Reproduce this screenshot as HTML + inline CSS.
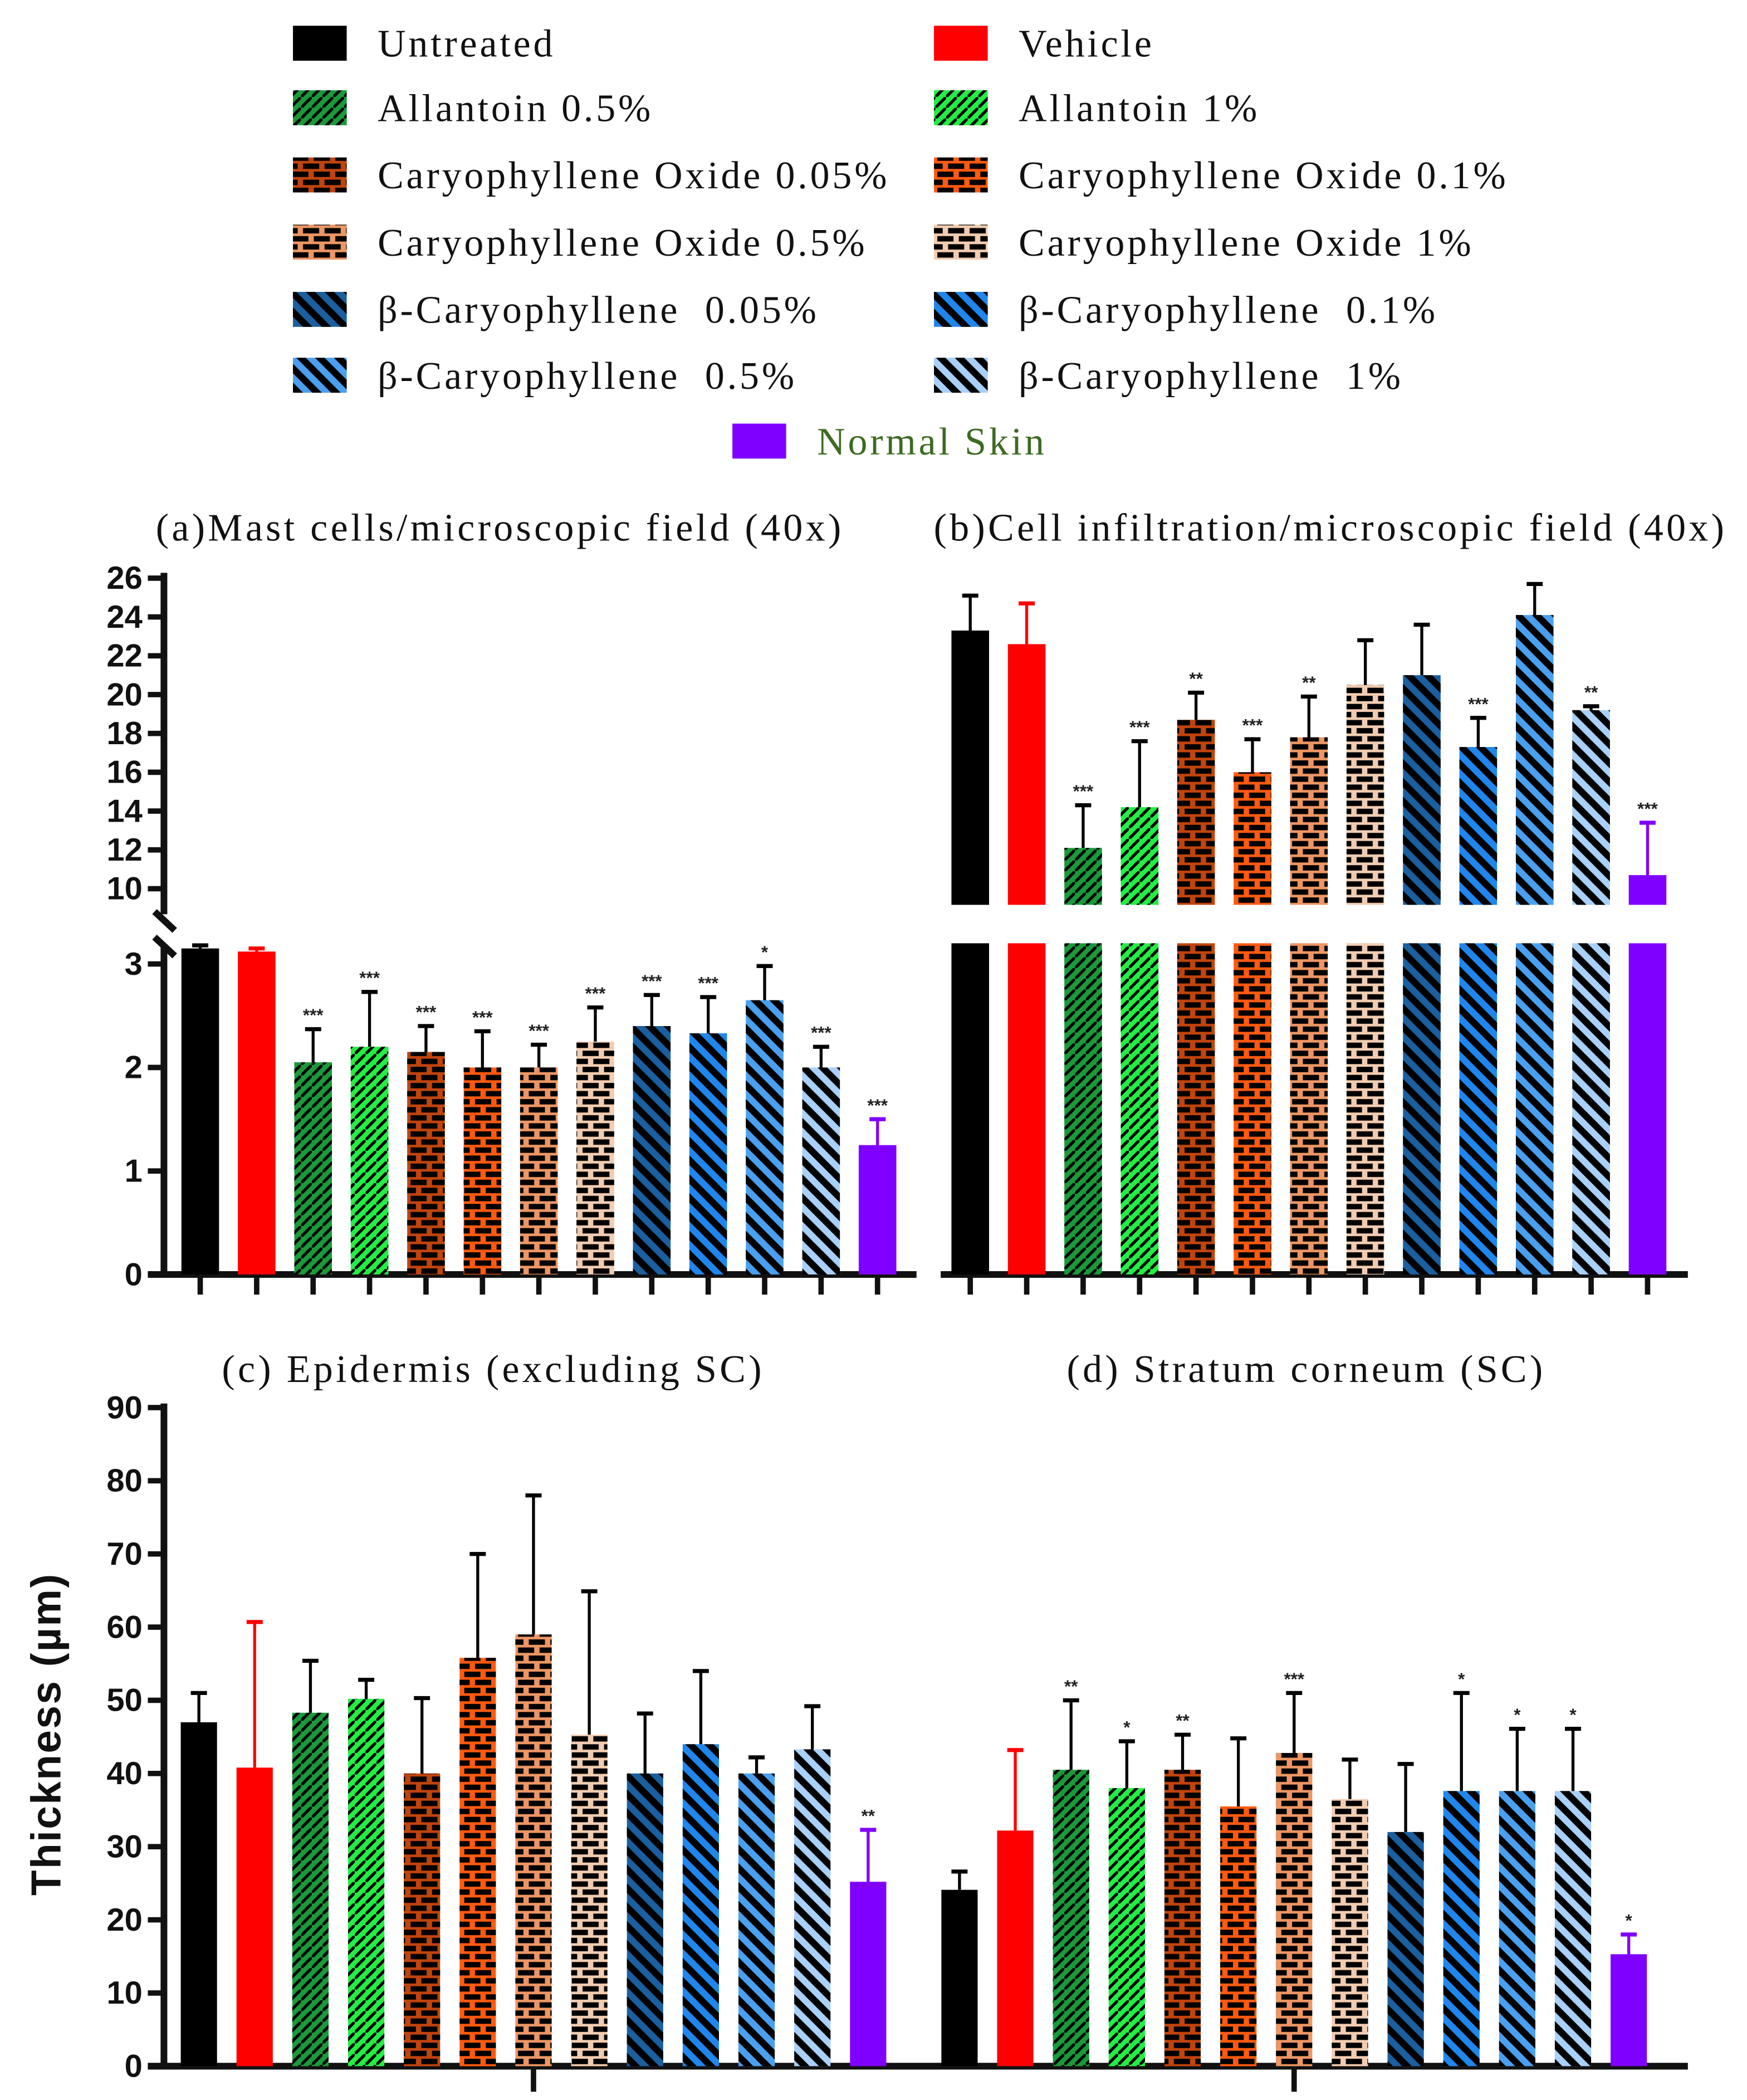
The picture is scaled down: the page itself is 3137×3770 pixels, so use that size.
<!DOCTYPE html>
<html><head><meta charset="utf-8"><style>
html,body{margin:0;padding:0;background:#fff;}
svg{display:block;}
.lg{font-family:"Liberation Serif",serif;font-size:29px;letter-spacing:2px;fill:#111;}
.tt{font-family:"Liberation Serif",serif;font-size:29px;letter-spacing:2.2px;fill:#111;}
.tk{font-family:"Liberation Sans",sans-serif;font-weight:bold;font-size:24px;fill:#111;}
.st{font-family:"Liberation Sans",sans-serif;font-size:13px;fill:#222;font-weight:bold;}
</style></head><body>
<svg id="chart" width="3137" height="3770" viewBox="0 0 1300 1562" xmlns="http://www.w3.org/2000/svg">
<defs>
<pattern id="hatch" patternUnits="userSpaceOnUse" width="8" height="8"><path d="M-2,10 L10,-2" stroke="#000" stroke-width="2.2"/></pattern>
<pattern id="brick" patternUnits="userSpaceOnUse" width="16" height="12"><rect x="1.5" y="1.5" width="12" height="4" fill="#000"/><rect x="-6.5" y="7.5" width="12" height="4" fill="#000"/><rect x="9.5" y="7.5" width="12" height="4" fill="#000"/></pattern>
<pattern id="stripe" patternUnits="userSpaceOnUse" width="14" height="14"><path d="M-3,-3 L17,17 M-3,11 L3,17 M11,-3 L17,3" stroke="#000" stroke-width="5"/></pattern>
</defs>
<g id="legend"></g>
<g id="plots"></g>
</svg>
<script>
const groups=["Untreated","Vehicle","Allantoin 0.5%","Allantoin 1%","Caryophyllene Oxide 0.05%","Caryophyllene Oxide 0.1%","Caryophyllene Oxide 0.5%","Caryophyllene Oxide 1%","β-Caryophyllene\u00a0 0.05%","β-Caryophyllene\u00a0 0.1%","β-Caryophyllene\u00a0 0.5%","β-Caryophyllene\u00a0 1%","Normal Skin"];
const colors=["#000000","#ff0000","#1a9a3a","#22ee44","#c0440c","#ff5a10","#ec9664","#f2ccb0","#1a5fa0","#1f86ee","#4aa0f0","#a8d0f8","#8000ff"];
const pats=["","","hatch","hatch","brick","brick","brick","brick","stripe","stripe","stripe","stripe",""];
const mastVals=[3.15,3.12,2.05,2.2,2.15,2.0,2.0,2.25,2.4,2.33,2.65,2.0,1.25];
const mastErr=[0.03,0.03,0.32,0.53,0.25,0.35,0.22,0.33,0.3,0.35,0.33,0.2,0.25];
const mastStars=["","","***","***","***","***","***","***","***","***","*","***","***"];
const infVals=[23.3,22.6,12.1,14.2,18.7,16.0,17.8,20.5,21.0,17.3,24.1,19.2,10.7];
const infErr=[1.8,2.1,2.2,3.4,1.4,1.7,2.1,2.3,2.6,1.5,1.6,0.2,2.7];
const infStars=["","","***","***","**","***","**","","","***","","**","***"];
const epiVals=[47,40.8,48.3,50.2,40,55.8,59,45.3,40,44,40,43.3,25.2];
const epiErr=[4,19.9,7.1,2.6,10.3,14.2,19,19.6,8.2,10,2.2,5.9,7.1];
const epiStars=["","","","","","","","","","","","","**"];
const scVals=[24.1,32.2,40.5,38,40.5,35.5,42.8,36.5,32,37.6,37.6,37.6,15.3];
const scErr=[2.5,11,9.5,6.4,4.8,9.3,8.2,5.4,9.3,13.4,8.5,8.5,2.7];
const scStars=["","","**","*","**","","***","","","*","*","*","*"];
const ticksTop=[10,12,14,16,18,20,22,24,26];
const ticksLow=[0,1,2,3];
const ticksC=[0,10,20,30,40,50,60,70,80,90];

const NS="http://www.w3.org/2000/svg";
const plots=document.getElementById('plots');
function mk(tag,at,parent){const e=document.createElementNS(NS,tag);for(const k in at)e.setAttribute(k,at[k]);(parent||plots).appendChild(e);return e;}
function txt(s,at,parent){const e=mk('text',at,parent);e.textContent=s;return e;}

const lg=document.getElementById('legend');
const lgPos=[[218,32],[695,32],[218,80],[695,80],[218,130],[695,130],[218,180],[695,180],[218,230],[695,230],[218,279],[695,279],[545,328]];
groups.forEach((g,i)=>{
 const [x,y]=lgPos[i];
 const r=mk('rect',{x:x,y:y-13,width:40,height:26,fill:colors[i]},lg);
 
 
 if(pats[i]){const p=mk('rect',{x:x,y:y-13,width:40,height:26,fill:'url(#'+pats[i]+')'},lg);}
 const t=txt(g,{x:x+63,y:y+10,class:'lg'},lg);
 if(i==12)t.setAttribute('style','fill:#3d6b22');
 
 
});

const yLow=v=>948-v*77;
const yTop=v=>661-(v-10)*14.44;
function bar(x,yt,yb,w,i){
 const r=mk('rect',{x:x-w/2,y:yt,width:w,height:yb-yt,fill:colors[i]});
 
 
 if(pats[i]){const p=mk('rect',{x:x-w/2,y:yt,width:w,height:yb-yt,fill:'url(#'+pats[i]+')'});}
}
function err(x,y0,y1,i,star){
 const c=(i==1||i==12)?colors[i]:'#000';
 const l=mk('line',{x1:x,y1:y0,x2:x,y2:y1,stroke:c,'stroke-width':2.2});
 
 
 mk('line',{x1:x-6,y1:y1,x2:x+6,y2:y1,stroke:c,'stroke-width':3});
 if(star){const s=txt(star,{x:x,y:y1-6,class:'st','text-anchor':'middle'});}
}
const ax=mk('g',{});
mk('line',{x1:122,y1:426,x2:122,y2:680,stroke:'#111','stroke-width':5},ax);
mk('line',{x1:122,y1:703,x2:122,y2:950,stroke:'#111','stroke-width':5},ax);
mk('line',{x1:115,y1:678,x2:130,y2:692,stroke:'#111','stroke-width':5},ax);
mk('line',{x1:115,y1:697,x2:130,y2:711,stroke:'#111','stroke-width':5},ax);
ticksTop.forEach(v=>{mk('line',{x1:110,y1:yTop(v),x2:122,y2:yTop(v),stroke:'#111','stroke-width':4},ax);const t=txt(String(v),{x:106,y:yTop(v)+8,class:'tk','text-anchor':'end'},ax);});
ticksLow.forEach(v=>{mk('line',{x1:110,y1:yLow(v),x2:122,y2:yLow(v),stroke:'#111','stroke-width':4},ax);const t=txt(String(v),{x:106,y:yLow(v)+8,class:'tk','text-anchor':'end'},ax);});
const xa=mk('line',{x1:110,y1:948,x2:682,y2:948,stroke:'#111','stroke-width':5});
const xb=mk('line',{x1:700,y1:948,x2:1256,y2:948,stroke:'#111','stroke-width':5});
let t1=txt('(a)Mast cells/microscopic field (40x)',{x:372,y:402,class:'tt','text-anchor':'middle'});
let t2=txt('(b)Cell infiltration/microscopic field (40x)',{x:990,y:402,class:'tt','text-anchor':'middle'});

mastVals.forEach((v,i)=>{
 const x=149+i*42;
 bar(x,yLow(v),948,28,i);
 err(x,yLow(v),yLow(v+mastErr[i]),i,mastStars[i]);
 mk('line',{x1:x,y1:948,x2:x,y2:963,stroke:'#111','stroke-width':4});
});
infVals.forEach((v,i)=>{
 const x=722+i*42;
 bar(x,yLow(3.2),948,28,i);
 bar(x,yTop(v),673,28,i);
 err(x,yTop(v),yTop(v+infErr[i]),i,infStars[i]);
 mk('line',{x1:x,y1:948,x2:x,y2:963,stroke:'#111','stroke-width':4});
});

const yC=v=>1537-v*5.444;
const axc=mk('g',{});
mk('line',{x1:122,y1:1044,x2:122,y2:1539,stroke:'#111','stroke-width':5},axc);
ticksC.forEach(v=>{mk('line',{x1:110,y1:yC(v),x2:122,y2:yC(v),stroke:'#111','stroke-width':4},axc);const t=txt(String(v),{x:106,y:yC(v)+8,class:'tk','text-anchor':'end'},axc);});
const xc=mk('line',{x1:110,y1:1537,x2:1256,y2:1537,stroke:'#111','stroke-width':5});
mk('line',{x1:397,y1:1537,x2:397,y2:1556,stroke:'#111','stroke-width':4});
mk('line',{x1:963,y1:1537,x2:963,y2:1556,stroke:'#111','stroke-width':4});
const yl=txt('Thickness (µm)',{x:0,y:0,transform:'translate(45,1290) rotate(-90)',class:'tk','text-anchor':'middle',style:'font-size:31px;letter-spacing:1px'});
let t3=txt('(c) Epidermis (excluding SC)',{x:367,y:1028,class:'tt','text-anchor':'middle'});
let t4=txt('(d) Stratum corneum (SC)',{x:972,y:1028,class:'tt','text-anchor':'middle'});
epiVals.forEach((v,i)=>{const x=148+i*41.5;bar(x,yC(v),1537,27,i);err(x,yC(v),yC(v+epiErr[i]),i,epiStars[i]);});
scVals.forEach((v,i)=>{const x=714+i*41.5;bar(x,yC(v),1537,27,i);err(x,yC(v),yC(v+scErr[i]),i,scStars[i]);});
</script>
</body></html>
